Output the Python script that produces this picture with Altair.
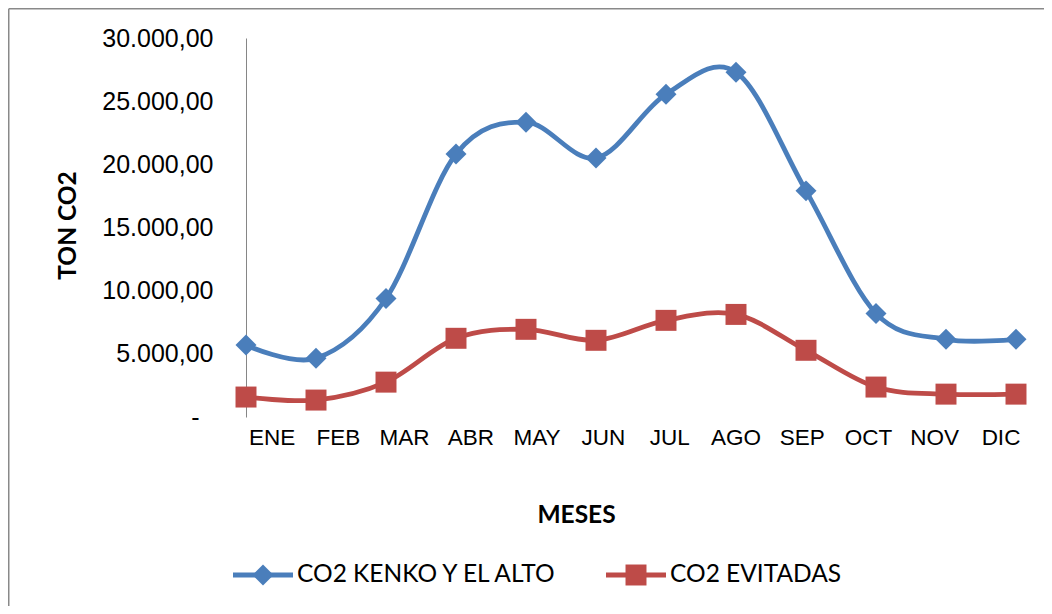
import altair as alt
import pandas as pd

MONTHS = ["ENE", "FEB", "MAR", "ABR", "MAY", "JUN", "JUL", "AGO", "SEP", "OCT", "NOV", "DIC"]
SERIES = ["CO2 KENKO Y EL ALTO", "CO2 EVITADAS"]
KENKO = [5700, 4650, 9380, 20820, 23340, 20500, 25550, 27290, 17900, 8200, 6150, 6150]
EVITADAS = [1580, 1340, 2760, 6230, 6940, 6070, 7650, 8120, 5280, 2370, 1810, 1810]
Y_TICKS = [0, 5000, 10000, 15000, 20000, 25000, 30000]

COLORS = ["#4A7EBB", "#BE4B48"]
SHAPES = ["diamond", "square"]

rows = []
for s, vals in zip(SERIES, [KENKO, EVITADAS]):
    for m, v in zip(MONTHS, vals):
        rows.append({"mes": m, "serie": s, "valor": v})
df = pd.DataFrame(rows)
months_df = pd.DataFrame({"mes": MONTHS})
one = pd.DataFrame({"k": [0]})

W, H = 770, 379
PAD_L, PAD_T = 238, 30
SVG_W, SVG_H = 1036, 598

label_expr = ("datum.value == 0 ? '-' : "
              "replace(replace(replace(format(datum.value, ',.2f'), ',', '#'), '.', ','), '#', '.')")

xscale = alt.Scale(type="point", domain=MONTHS, padding=0)
yscale = alt.Scale(domain=[0, 30000], nice=False, zero=True)
color_scale = alt.Scale(domain=SERIES, range=COLORS)

line = alt.Chart(df).mark_line(interpolate="cardinal", tension=0, strokeWidth=4.8).encode(
    x=alt.X("mes:N", sort=MONTHS, scale=xscale,
            axis=alt.Axis(labels=False, ticks=False, domain=False, grid=False,
                          title="MESES", titleX=330, titleY=98, titleAlign="center",
                          titleBaseline="middle", titleFont="Lato", titleFontSize=24.5,
                          titleFontWeight="bold", titleColor="#000000")),
    y=alt.Y("valor:Q", scale=yscale,
            axis=alt.Axis(values=Y_TICKS, labelExpr=label_expr, grid=False, ticks=False,
                          domain=True, domainColor="#868686", domainWidth=1,
                          labelFont="Liberation Sans", labelFontSize=25, labelColor="#000000",
                          labelPadding={"condition": {"test": "datum.value == 0", "value": 47}, "value": 33},
                          title="TON CO2", titleX=-178, titleY=187,
                          titleAngle=270, titleAlign="center", titleBaseline="middle",
                          titleFont="Lato", titleFontSize=24.5, titleFontWeight="bold",
                          titleColor="#000000")),
    color=alt.Color("serie:N", scale=color_scale, legend=None),
    detail="serie:N",
)

points = alt.Chart(df).mark_point(filled=True, opacity=1, size=440).encode(
    x=alt.X("mes:N", sort=MONTHS, scale=xscale, axis=None),
    y=alt.Y("valor:Q", scale=yscale),
    color=alt.Color("serie:N", scale=color_scale, legend=None),
    shape=alt.Shape("serie:N", scale=alt.Scale(domain=SERIES, range=SHAPES), legend=None),
)

xlabels = alt.Chart(months_df).mark_text(
    font="Liberation Sans", fontSize=22.5, color="#000000", baseline="middle", align="center"
).encode(
    x=alt.X("mes:N", sort=MONTHS,
            scale=alt.Scale(type="point", domain=MONTHS, range=[26, 755], padding=0), axis=None),
    y=alt.value(400),
    text="mes:N",
)

# outer frame (top and left edges; others fall outside the picture)
frame_top = alt.Chart(one).mark_rule(color="#898989", strokeWidth=1.5).encode(
    x=alt.value(-PAD_L + 0.75), x2=alt.value(SVG_W - PAD_L), y=alt.value(-PAD_T + 0.75))
frame_left = alt.Chart(one).mark_rule(color="#898989", strokeWidth=1.5).encode(
    x=alt.value(-PAD_L + 0.75), y=alt.value(-PAD_T + 0.75), y2=alt.value(SVG_H - PAD_T))

LEG_Y = 537
legend_layers = []
for name, col, shp, x0 in zip(SERIES, COLORS, SHAPES, [-13, 360]):
    legend_layers.append(alt.Chart(one).mark_rule(color=col, strokeWidth=4.8).encode(
        x=alt.value(x0), x2=alt.value(x0 + 60), y=alt.value(LEG_Y)))
    legend_layers.append(alt.Chart(one).mark_point(filled=True, opacity=1, size=440, shape=shp, color=col).encode(
        x=alt.value(x0 + 30), y=alt.value(LEG_Y)))
    legend_layers.append(alt.Chart(one).mark_text(
        font="Lato", fontSize=24.5, color="#000000", align="left", baseline="middle").encode(
        x=alt.value(x0 + 64), y=alt.value(LEG_Y), text=alt.value(name)))

chart = alt.layer(line, points, xlabels, frame_top, frame_left, *legend_layers).resolve_scale(
    x="independent"
).properties(
    width=W, height=H,
    autosize=alt.AutoSizeParams(type="none"),
    padding={"left": PAD_L, "top": PAD_T, "right": SVG_W - PAD_L - W, "bottom": SVG_H - PAD_T - H},
    background="#ffffff",
).configure_view(strokeWidth=0)

chart.save("out.html", embed_options={"renderer": "svg", "actions": False})
